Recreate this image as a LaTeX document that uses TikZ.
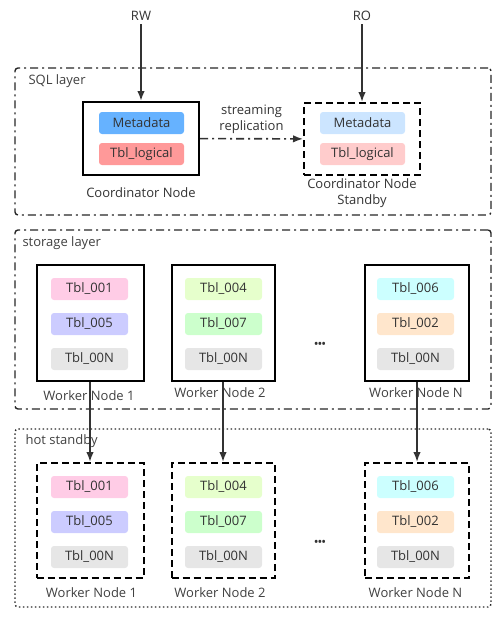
\documentclass[tikz,border=0pt]{standalone}
\usepackage{fontspec}
\setmainfont{Open Sans}
\usepackage{tikz}
\usetikzlibrary{arrows.meta}

\definecolor{txt}{HTML}{333333}
\definecolor{meta}{HTML}{66B2FF}
\definecolor{metalight}{HTML}{CCE5FF}
\definecolor{logic}{HTML}{FF9999}
\definecolor{logiclight}{HTML}{FFCCCC}
\definecolor{tone}{HTML}{FFCCE6}
\definecolor{tfive}{HTML}{CCCCFF}
\definecolor{tfour}{HTML}{E6FFCC}
\definecolor{tseven}{HTML}{CCFFCC}
\definecolor{tsix}{HTML}{CCFFFF}
\definecolor{ttwo}{HTML}{FFE6CC}
\definecolor{tn}{HTML}{E6E6E6}

\begin{document}
\begin{tikzpicture}[x=1pt,y=-1pt,>={Latex[length=10pt,width=7.5pt]},
	font=\fontsize{13}{16}\selectfont, text=txt,
	layer/.style={draw=black!85, line width=1.4pt, rounded corners=3pt, minimum width=476pt, inner sep=0pt},
	dashdot/.style={dash pattern=on 8pt off 4pt on 2pt off 4pt},
	hot/.style={dash pattern=on 1.5pt off 2.5pt},
	box/.style={draw=black, line width=2pt, inner sep=0pt},
	sbox/.style={box, dash pattern=on 7pt off 4pt},
	tbl/.style={rounded corners=3pt, minimum width=77pt, minimum height=22pt, inner sep=0pt},
	meta/.style={tbl, minimum width=85pt},
	lbl/.style={text=black!75},
	dots/.style={font=\fontsize{10}{10}\selectfont\bfseries},
	conn/.style={->, line width=1.6pt, draw=txt}]
	\useasboundingbox (0,0) rectangle (502,618);
	% layers
	\node [layer, dashdot, minimum height=147pt] (sql) at (253,141.5) {};
	\node [layer, dashdot, minimum height=179pt] (storage) at (253,319.5) {};
	\node [layer, hot, minimum height=178pt] (standby) at (253,518) {};
	\node [lbl, anchor=west] (sqllbl) at (25,81) {SQL layer};
	\node [lbl, anchor=west] (storagelbl) at (19,243) {storage layer};
	\node [lbl, anchor=west] (standbylbl) at (22,441) {hot standby};
	% sql layer
	\node (rw) at (141,16) {RW};
	\node (ro) at (362,16) {RO};
	\node [box, minimum width=116pt, minimum height=73pt] (cn) at (141,138.5) {};
	\node [meta, fill=meta] (cnmeta) at (141.5,123) {Metadata};
	\node [meta, fill=logic] (cnlogic) at (141.5,154) {Tbl\_logical};
	\node (cnlbl) at (141,193) {Coordinator Node};
	\node [sbox, minimum width=116pt, minimum height=72pt] (cs) at (362,139) {};
	\node [meta, fill=metalight] (csmeta) at (362.5,123) {Metadata};
	\node [meta, fill=logiclight] (cslogic) at (362.5,154) {Tbl\_logical};
	\node [align=center] (cslbl) at (362,193.5) {Coordinator Node\\Standby};
	\draw [conn] (rw) -- (cn);
	\draw [conn] (ro) -- (cs);
	\draw [conn, dashdot] (cn) -- node [above=1pt, align=center] {streaming\\replication} (cs);
	% storage layer
	\node [box, minimum width=107pt, minimum height=116pt] (w1) at (90,323) {};
	\node [box, minimum width=103pt, minimum height=116pt] (w2) at (223,323) {};
	\node [box, minimum width=104pt, minimum height=116pt] (wn) at (417,323) {};
	\node [tbl, fill=tone] (w1a) at (89.5,289) {Tbl\_001};
	\node [tbl, fill=tfive] (w1b) at (89.5,324) {Tbl\_005};
	\node [tbl, fill=tn] (w1c) at (89.5,359) {Tbl\_00N};
	\node [tbl, fill=tfour] (w2a) at (223.5,289) {Tbl\_004};
	\node [tbl, fill=tseven] (w2b) at (223.5,324) {Tbl\_007};
	\node [tbl, fill=tn] (w2c) at (223.5,359) {Tbl\_00N};
	\node [tbl, fill=tsix] (wna) at (415.5,289) {Tbl\_006};
	\node [tbl, fill=ttwo] (wnb) at (415.5,324) {Tbl\_002};
	\node [tbl, fill=tn] (wnc) at (415.5,359) {Tbl\_00N};
	\node [lbl] (w1lbl) at (89,396) {Worker Node 1};
	\node [lbl] (w2lbl) at (220,393) {Worker Node 2};
	\node [lbl] (wnlbl) at (416,393) {Worker Node N};
	\node [dots] (wdots) at (320,345) {•••};
	% hot standby
	\node [sbox, minimum width=107pt, minimum height=115pt] (h1) at (90,520.5) {};
	\node [sbox, minimum width=103pt, minimum height=115pt] (h2) at (223,520.5) {};
	\node [sbox, minimum width=104pt, minimum height=115pt] (hn) at (417,520.5) {};
	\node [tbl, fill=tone] (h1a) at (89.5,487) {Tbl\_001};
	\node [tbl, fill=tfive] (h1b) at (89.5,522) {Tbl\_005};
	\node [tbl, fill=tn] (h1c) at (89.5,557) {Tbl\_00N};
	\node [tbl, fill=tfour] (h2a) at (223.5,487) {Tbl\_004};
	\node [tbl, fill=tseven] (h2b) at (223.5,522) {Tbl\_007};
	\node [tbl, fill=tn] (h2c) at (223.5,557) {Tbl\_00N};
	\node [tbl, fill=tsix] (hna) at (415.5,487) {Tbl\_006};
	\node [tbl, fill=ttwo] (hnb) at (415.5,522) {Tbl\_002};
	\node [tbl, fill=tn] (hnc) at (415.5,557) {Tbl\_00N};
	\node [lbl] (h1lbl) at (91.5,593) {Worker Node 1};
	\node [lbl] (h2lbl) at (220,593) {Worker Node 2};
	\node [lbl] (hnlbl) at (415.5,593) {Worker Node N};
	\node [dots] (hdots) at (320,543) {•••};
	\draw [conn] (w1) -- (h1);
	\draw [conn] (w2) -- (h2);
	\draw [conn] (wn) -- (hn);
\end{tikzpicture}
\end{document}
